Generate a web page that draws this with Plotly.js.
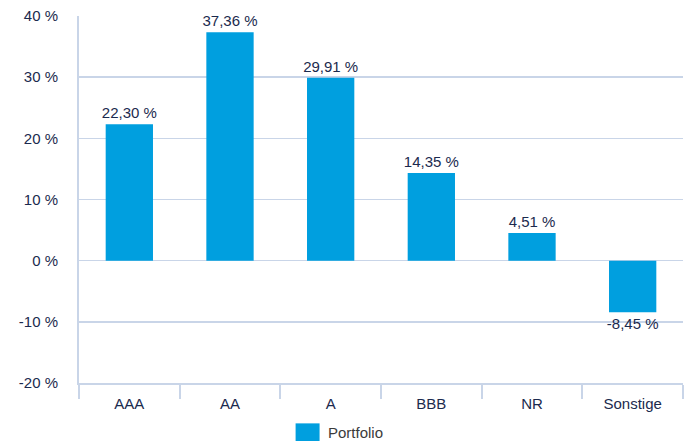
<!DOCTYPE html>
<html>
<head>
<meta charset="utf-8">
<script src="https://cdn.plot.ly/plotly-3.0.1.min.js"></script>
<style>html,body{margin:0;padding:0;background:#fff;}#chart{width:693px;height:443px;}</style>
</head>
<body>
<div id="chart"></div>
<script>
const categories = ["AAA", "AA", "A", "BBB", "NR", "Sonstige"];
const portfolio = [22.30, 37.36, 29.91, 14.35, 4.51, -8.45];
const seriesName = "Portfolio";
const yTickVals = [-20, -10, 0, 10, 20, 30, 40];
const yTickText = ["-20 %", "-10 %", "0 %", "10 %", "20 %", "30 %", "40 %"];

const textColor = "#1b2a4e";
const gridColor = "#c9d5e8";
const barColor = "#009fdf";
const fontFam = "Liberation Sans, Arial, sans-serif";

const labels = portfolio.map(v => v.toFixed(2).replace(".", ",") + " %");

const trace = {
  type: "bar",
  x: categories,
  y: portfolio,
  name: seriesName,
  marker: {color: barColor},
  text: labels,
  textposition: "outside",
  constraintext: "none",
  textfont: {family: fontFam, size: 15, color: textColor},
  cliponaxis: false,
  width: 0.47,
  showlegend: false,
  hoverinfo: "none"
};

const layout = {
  width: 693, height: 443,
  margin: {l: 79, r: 10, t: 16, b: 60},
  paper_bgcolor: "#ffffff",
  plot_bgcolor: "#ffffff",
  font: {family: fontFam, size: 14, color: textColor},
  showlegend: false,
  xaxis: {
    type: "category",
    showgrid: false,
    showline: true,
    linecolor: gridColor,
    linewidth: 2,
    ticks: "outside",
    tickson: "boundaries",
    ticklen: 14,
    tickcolor: gridColor,
    tickwidth: 2,
    ticklabelstandoff: 6,
    tickfont: {family: fontFam, size: 15, color: textColor},
    zeroline: false
  },
  yaxis: {
    range: [-20, 40],
    tickvals: yTickVals,
    ticktext: yTickText,
    showgrid: true,
    gridcolor: gridColor,
    gridwidth: 1.5,
    zeroline: false,
    showline: true,
    linecolor: gridColor,
    linewidth: 2,
    ticks: "",
    ticklabelstandoff: 16,
    tickfont: {family: fontFam, size: 15, color: textColor}
  },
  shapes: [
    {type: "line", xref: "paper", yref: "paper", x0: 0, x1: 0, y0: 0, y1: -0.04,
     line: {color: gridColor, width: 2}},
    {type: "rect", xref: "paper", yref: "paper", x0: 0.3586, x1: 0.3983, y0: -0.11, y1: -0.158,
     fillcolor: barColor, line: {width: 0}}
  ],
  annotations: [
    {xref: "paper", yref: "paper", x: 0.4083, y: -0.134, xanchor: "left", yanchor: "middle",
     text: seriesName, showarrow: false, font: {family: fontFam, size: 15, color: "#3a3a3a"}}
  ]
};

Plotly.newPlot("chart", [trace], layout, {displayModeBar: false, staticPlot: true});
</script>
</body>
</html>
